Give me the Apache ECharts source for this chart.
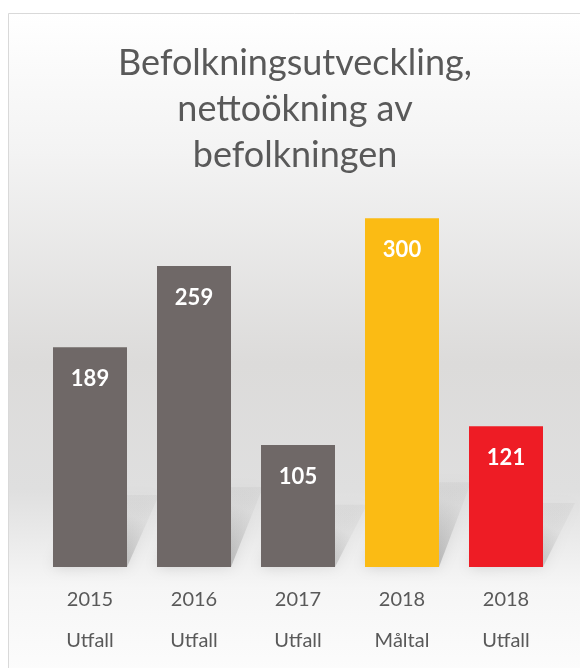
<!DOCTYPE html>
<html>
  <head>
    <meta charset="utf-8" />
    <title>Befolkningsutveckling</title>
    <script src="https://cdn.jsdelivr.net/npm/echarts@6/dist/echarts.min.js"></script>
    <style>
      html, body { margin: 0; padding: 0; background: #fff; }
    </style>
  </head>
  <body>
    <div id="main" style="width: 580px;height:668px;"></div>
    <script>
        // data
        var years = ['2015', '2016', '2017', '2018', '2018'];
        var kinds = ['Utfall', 'Utfall', 'Utfall', 'Måltal', 'Utfall'];
        var values = [189, 259, 105, 300, 121];
        var barColors = ['#6f6867', '#6f6867', '#6f6867', '#fbbb14', '#ee1c25'];

        var categories = years.map((y, i) => y + '\n' + kinds[i]);
        var myChart = echarts.init(document.getElementById('main'));
        var barWidth = 74;

        var option = {
          backgroundColor: '#fff',
          animation: false,
          graphic: [
            {
              type: 'rect',
              z: -10,
              shape: { x: 8.5, y: 13.5, width: 600, height: 700 },
              style: {
                stroke: '#d9d9d9',
                lineWidth: 1,
                fill: {
                  type: 'linear', x: 0, y: 0, x2: 0, y2: 1,
                  colorStops: [
                    { offset: 0, color: '#ffffff' },
                    { offset: 0.2, color: '#f3f3f3' },
                    { offset: 0.5, color: '#dcdbda' },
                    { offset: 0.68, color: '#dfdfdf' },
                    { offset: 0.82, color: '#f6f6f6' },
                    { offset: 1, color: '#ffffff' }
                  ]
                }
              }
            }
          ],
          title: {
            text: 'Befolkningsutveckling,\nnettoökning av\nbefolkningen',
            left: 290,
            top: 35,
            textAlign: 'center',
            textStyle: {
              fontFamily: 'Lato',
              fontWeight: 'normal',
              fontSize: 36,
              lineHeight: 46,
              color: '#595959'
            }
          },
          grid: { left: 38, right: 22, top: 102, bottom: 101 },
          xAxis: {
            type: 'category',
            data: categories,
            axisLine: { show: false },
            axisTick: { show: false },
            axisLabel: {
              margin: 12,
              fontFamily: 'Lato',
              fontSize: 20,
              lineHeight: 41,
              color: '#595959'
            }
          },
          yAxis: {
            type: 'value',
            min: 0,
            max: 400,
            show: false,
            splitLine: { show: false }
          },
          series: [
            {
              // soft diagonal shadow behind each bar
              type: 'custom',
              z: 1,
              silent: true,
              data: values.map((v, i) => [i, v]),
              renderItem: function (params, api) {
                var base = api.coord([api.value(0), 0]);
                var top = api.coord([api.value(0), api.value(1)]);
                var h = base[1] - top[1];
                var dy = 50 + h * 0.1;
                var dx = 32;
                var xl = base[0] - barWidth / 2;
                var xr = base[0] + barWidth / 2;
                return {
                  type: 'polygon',
                  shape: {
                    points: [
                      [xl, base[1]], [xr, base[1]],
                      [xr + dx, base[1] - dy], [xl + dx, base[1] - dy]
                    ]
                  },
                  style: {
                    fill: {
                      type: 'linear', x: 0, y: 1, x2: 0.3, y2: 0,
                      colorStops: [
                        { offset: 0, color: 'rgba(100,100,100,0.5)' },
                        { offset: 1, color: 'rgba(140,140,140,0.08)' }
                      ]
                    },
                    shadowBlur: 14,
                    shadowColor: 'rgba(110,110,110,0.55)'
                  }
                };
              }
            },
            {
              type: 'bar',
              z: 2,
              barWidth: barWidth,
              data: values.map((v, i) => ({ value: v, itemStyle: { color: barColors[i] } })),
              label: {
                show: true,
                position: 'insideTop',
                distance: 21,
                color: '#fff',
                fontFamily: 'Lato',
                fontWeight: 'bold',
                fontSize: 22
              }
            }
          ]
        };

        myChart.setOption(option);
    </script>
  </body>
</html>
